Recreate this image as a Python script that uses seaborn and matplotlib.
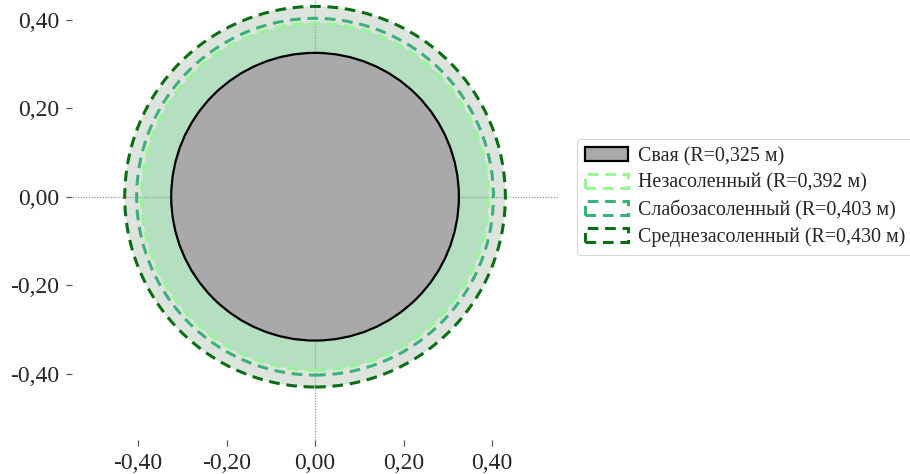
import numpy as np
import pandas as pd
import matplotlib
matplotlib.use("Agg")
import matplotlib.pyplot as plt
from matplotlib.patches import Circle, Patch
import seaborn as sns

# Radii of the pile and of the frozen zones for each soil salinity
labels = ["Свая", "Незасоленный", "Слабозасоленный", "Среднезасоленный"]
radii = [0.325, 0.392, 0.403, 0.430]
edge_colors = ["black", "#98f598", "#3bb17a", "#0a6e14"]
ticks = [-0.40, -0.20, 0.00, 0.20, 0.40]

sns.set_theme(style="white")
plt.rcParams["font.family"] = ["Liberation Serif", "DejaVu Serif"]

fig = plt.figure(figsize=(9.10, 4.74), dpi=100)
ax = fig.add_axes([0.0787, 0.0700, 0.535, 1.030])
ax.set_xlim(-0.55, 0.55)
ax.set_ylim(-0.55, 0.55)
ax.set_aspect("equal")

# Soil ring fills (outermost first)
ax.add_patch(Circle((0, 0), radii[3], facecolor="#dde3dd", edgecolor="none", zorder=1))
ax.add_patch(Circle((0, 0), radii[1], facecolor="#b4dfc0", edgecolor="none", zorder=1.1))

# Axis guide lines through the pile centre
ax.axhline(0, color="#9a9a9a", lw=0.9, ls=(0, (1, 1.2)), zorder=1.5)
ax.axvline(0, color="#9a9a9a", lw=0.9, ls=(0, (1, 1.2)), zorder=1.5)

# Boundaries of the frozen zones
handles = []
for lab, r, c in zip(labels[1:], radii[1:], edge_colors[1:]):
    ax.add_patch(Circle((0, 0), r, facecolor="none", edgecolor=c, lw=2.2,
                        ls=(0, (3.5, 2.2)), zorder=2))
    handles.append(Patch(facecolor="white", edgecolor=c, lw=2.2, ls=(0, (3.5, 2.2)),
                         label=f"{lab} (R={r:.3f} м)".replace(".", ",")))

# Pile
ax.add_patch(Circle((0, 0), radii[0], facecolor="#a9a9a9", edgecolor="black", lw=1.6, zorder=3))
handles.insert(0, Patch(facecolor="#a9a9a9", edgecolor="black", lw=1.6,
                        label=f"{labels[0]} (R={radii[0]:.3f} м)".replace(".", ",")))

tick_labels = [f"{t:.2f}".replace(".", ",") for t in ticks]
ax.set_xticks(ticks)
ax.set_xticklabels(tick_labels)
ax.set_yticks(ticks)
ax.set_yticklabels(tick_labels)
ax.tick_params(axis="both", which="both", length=4, width=0.9, color="#555555",
               direction="out", labelsize=17, pad=5, bottom=True, left=True)
sns.despine(ax=ax, left=True, bottom=True)

leg = fig.legend(handles=handles, loc="center left",
                 bbox_to_anchor=(577 / 910, (474 - 197) / 474),
                 bbox_transform=fig.transFigure, fontsize=14.4, frameon=True,
                 labelspacing=0.36, handlelength=2.15, handleheight=0.7,
                 borderpad=0.4, borderaxespad=0.0, handletextpad=0.5, fancybox=True)
leg.get_frame().set_edgecolor("#cccccc")
leg.get_frame().set_linewidth(0.8)

fig.savefig("out.png", dpi=100)
